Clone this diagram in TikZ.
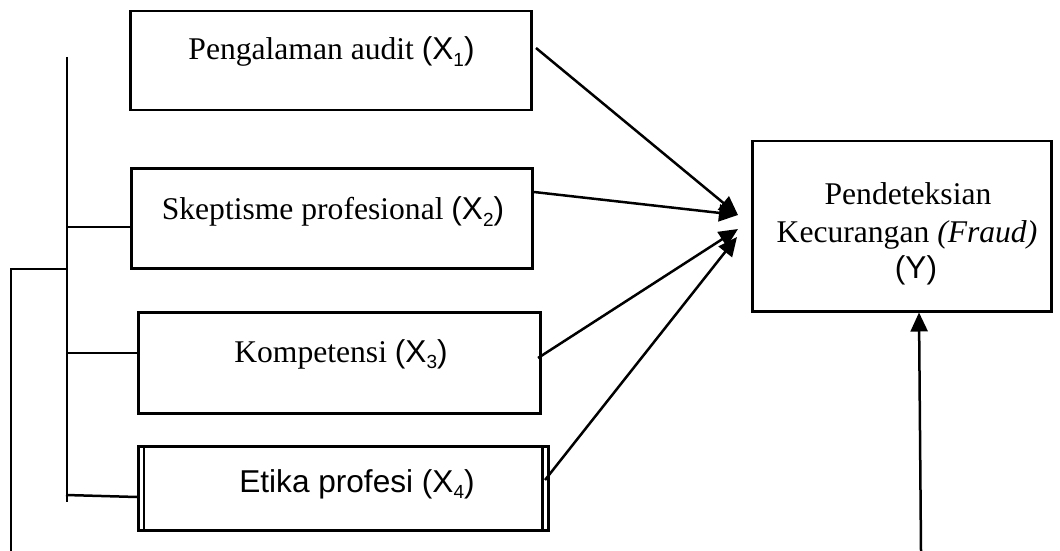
\documentclass[tikz,border=0pt]{standalone}
\usepackage{fontspec}
\setmainfont{Liberation Serif}
\newfontfamily\arialf{Liberation Sans}
\usetikzlibrary{arrows.meta,calc}
\newcommand{\xsub}[1]{\raisebox{-0.2em}{\fontsize{9.5}{10}\selectfont #1}}
\tikzset{
  boxx/.style={draw, line width=1.25pt, rectangle, inner sep=0pt, anchor=north west},
  lbl/.style={anchor=base, inner sep=0pt, font=\fontsize{15.8}{18}\selectfont},
  conn/.style={line width=1.25pt},
  arr/.style={line width=1.25pt, -{Triangle[length=9.5pt,width=8.5pt]}}
}
\begin{document}
\begin{tikzpicture}[x=0.5pt,y=-0.5pt]
\useasboundingbox (0,0) rectangle (1060,551);
% boxes
\node[boxx, minimum width=200.5pt, minimum height=49.5pt] (x1) at (129,10) {};
\node[boxx, minimum width=200.5pt, minimum height=50pt] (x2) at (130,167) {};
\node[boxx, minimum width=201pt, minimum height=50.5pt] (x3) at (137,311) {};
\node[boxx, minimum width=205pt, minimum height=42pt] (x4) at (137,445) {};
\draw[line width=1.25pt] ([xshift=3.5pt]x4.north west) -- ([xshift=3.5pt]x4.south west);
\draw[line width=1.25pt] ([xshift=-3.5pt]x4.north east) -- ([xshift=-3.5pt]x4.south east);
\node[boxx, minimum width=149.5pt, minimum height=85pt] (y) at (751,140) {};
% texts
\node[lbl] (t1) at (331.5,60) {Pengalaman audit {\arialf(X\xsub{1})}};
\node[lbl] (t2) at (333,220) {Skeptisme profesional {\arialf(X\xsub{2})}};
\node[lbl] (t3) at (341,362) {Kompetensi {\arialf(X\xsub{3})}};
\node[lbl] (t4) at (357,492) {\arialf Etika profesi (X\xsub{4})};
\node[lbl] (yt1) at (908,205) {Pendeteksian};
\node[lbl] (yt2) at (907,242) {Kecurangan \textit{(Fraud)}};
\node[lbl] (yt3) at (916,278) {\arialf(Y)};
% arrow end points
\coordinate (s1) at (536,48);
\coordinate (s2) at (534,192);
\coordinate (s3) at (538,358);
\coordinate (s4) at (545,480);
\coordinate (e1) at (738,215);
\coordinate (e3) at (738,229);
\coordinate (e4) at (737,237);
\draw[arr] (s1) -- (e1);
\draw[arr] (s2) -- (e1);
\draw[arr] (s3) -- (e3);
\draw[arr] (s4) -- (e4);
% bus on the left
\coordinate (b0) at (67,57);
\coordinate (b5) at (67,502);
\coordinate (b2) at (67,227);
\coordinate (b3) at (68,353);
\coordinate (b4) at (66,495);
\coordinate (bo) at (67,269);
\coordinate (c2) at (133,227);
\coordinate (c3) at (137,353);
\coordinate (c4) at (137,497);
\draw[conn] (b0) -- (b5);
\draw[conn] (b2) -- (c2);
\draw[conn] (b3) -- (c3);
\draw[conn] (b4) -- (c4);
\coordinate (o1) at (11,269);
\coordinate (o2) at (11,551);
\draw[conn] (bo) -- (o1) -- (o2);
\coordinate (ub) at (921,551);
\draw[arr] (ub) -- ($(y.south west)+(168,0)$);
\end{tikzpicture}
\end{document}
